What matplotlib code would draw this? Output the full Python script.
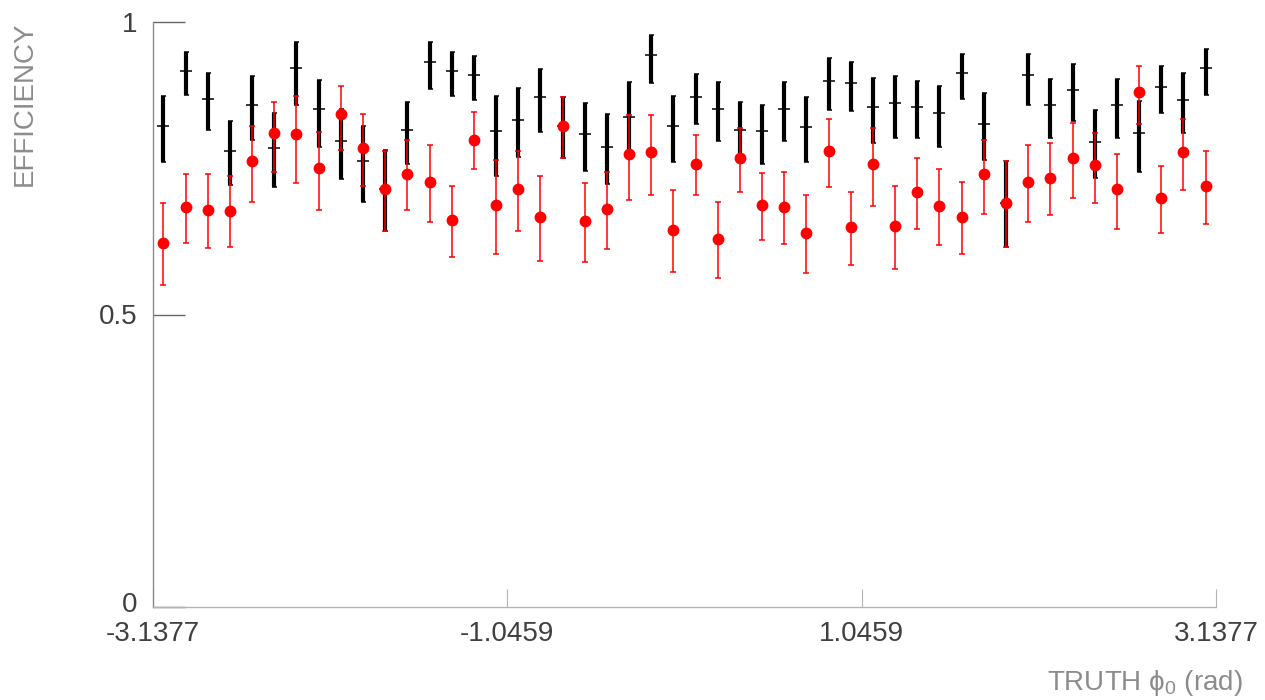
import numpy as np
import matplotlib
matplotlib.use("Agg")
import matplotlib.pyplot as plt
from matplotlib.transforms import ScaledTranslation

plt.rcParams['font.family'] = ['Liberation Sans', 'DejaVu Sans']
plt.rcParams['mathtext.fontset'] = 'custom'
plt.rcParams['mathtext.rm'] = 'Liberation Sans'
plt.rcParams['mathtext.it'] = 'Liberation Sans'
plt.rcParams['mathtext.default'] = 'regular'

# 48 bins in truth phi0
phi_edges = np.linspace(-np.pi, np.pi, 49)
phi = 0.5 * (phi_edges[:-1] + phi_edges[1:])

# black series (+ markers, thick bars)
black_eff = [0.822, 0.917, 0.868, 0.780, 0.858, 0.785, 0.922, 0.851, 0.796, 0.762, 0.714, 0.815,
             0.932, 0.916, 0.909, 0.814, 0.833, 0.871, 0.823, 0.808, 0.787, 0.838, 0.944, 0.822,
             0.871, 0.852, 0.816, 0.814, 0.852, 0.820, 0.900, 0.895, 0.854, 0.862, 0.854, 0.844,
             0.912, 0.826, 0.691, 0.909, 0.858, 0.884, 0.795, 0.858, 0.810, 0.889, 0.866, 0.921]
black_hi = [0.874, 0.948, 0.912, 0.831, 0.907, 0.844, 0.966, 0.901, 0.851, 0.823, 0.781, 0.864,
            0.965, 0.949, 0.942, 0.874, 0.887, 0.920, 0.872, 0.862, 0.842, 0.897, 0.977, 0.874,
            0.911, 0.897, 0.864, 0.858, 0.897, 0.871, 0.938, 0.932, 0.905, 0.908, 0.899, 0.891,
            0.946, 0.878, 0.763, 0.946, 0.903, 0.928, 0.850, 0.903, 0.865, 0.925, 0.913, 0.954]
black_lo = [0.761, 0.876, 0.815, 0.722, 0.798, 0.718, 0.858, 0.787, 0.731, 0.692, 0.642, 0.757,
            0.885, 0.873, 0.867, 0.737, 0.769, 0.812, 0.767, 0.746, 0.723, 0.767, 0.896, 0.760,
            0.826, 0.797, 0.770, 0.758, 0.797, 0.760, 0.850, 0.848, 0.793, 0.801, 0.801, 0.787,
            0.868, 0.764, 0.616, 0.858, 0.801, 0.830, 0.734, 0.801, 0.743, 0.844, 0.811, 0.876]

# red series (filled circles, thin bars)
red_eff = [0.623, 0.683, 0.679, 0.677, 0.762, 0.810, 0.808, 0.750, 0.842, 0.785, 0.714, 0.741,
           0.727, 0.661, 0.799, 0.688, 0.715, 0.667, 0.823, 0.660, 0.681, 0.774, 0.778, 0.644,
           0.757, 0.629, 0.767, 0.688, 0.684, 0.640, 0.779, 0.649, 0.757, 0.651, 0.709, 0.686,
           0.667, 0.740, 0.691, 0.727, 0.734, 0.767, 0.755, 0.714, 0.880, 0.699, 0.778, 0.720]
red_hi = [0.691, 0.741, 0.741, 0.736, 0.822, 0.864, 0.874, 0.812, 0.891, 0.843, 0.780, 0.798,
          0.790, 0.720, 0.847, 0.764, 0.780, 0.737, 0.872, 0.725, 0.744, 0.841, 0.841, 0.712,
          0.806, 0.693, 0.818, 0.742, 0.744, 0.705, 0.834, 0.709, 0.818, 0.720, 0.767, 0.748,
          0.727, 0.799, 0.763, 0.790, 0.793, 0.827, 0.811, 0.774, 0.924, 0.753, 0.835, 0.780]
red_lo = [0.550, 0.623, 0.613, 0.615, 0.693, 0.744, 0.725, 0.679, 0.781, 0.720, 0.642, 0.679,
          0.658, 0.598, 0.748, 0.603, 0.642, 0.591, 0.767, 0.589, 0.612, 0.695, 0.705, 0.573,
          0.704, 0.562, 0.709, 0.627, 0.620, 0.571, 0.718, 0.585, 0.686, 0.578, 0.646, 0.619,
          0.603, 0.672, 0.616, 0.658, 0.670, 0.700, 0.691, 0.647, 0.825, 0.639, 0.712, 0.655]

x_ticks = [-3.1377, -1.0459, 1.0459, 3.1377]
x_ticklabels = ['-3.1377', '-1.0459', '1.0459', '3.1377']
y_ticks = [0, 0.5, 1]
y_ticklabels = ['0', '0.5', '1']

black_eff = np.array(black_eff)
red_eff = np.array(red_eff)
black_err = [black_eff - np.array(black_lo), np.array(black_hi) - black_eff]
red_err = [red_eff - np.array(red_lo), np.array(red_hi) - red_eff]

fig = plt.figure(figsize=(12.65, 7.0), dpi=100)
ax = fig.add_axes([153 / 1265, 1 - 607 / 700, 1063 / 1265, 585 / 700])

ax.errorbar(phi, black_eff, yerr=black_err, fmt='+', color='black',
            markersize=8, markeredgewidth=1.1, elinewidth=3.0,
            capsize=1.8, capthick=2.2, zorder=2)
ax.errorbar(phi, red_eff, yerr=red_err, fmt='o', color='#ff0000',
            markersize=7.5, elinewidth=1.1, capsize=2.2, capthick=1.1, zorder=3)

ax.set_xlim(-3.1377, 3.1377)
ax.set_ylim(0, 1)
ax.set_xticks(x_ticks)
ax.set_xticklabels(x_ticklabels)
ax.set_yticks(y_ticks)
ax.set_yticklabels(y_ticklabels)

ax.spines['right'].set_visible(False)
ax.spines['top'].set_visible(False)
ax.spines['left'].set_color('#8c8c8c')
ax.spines['bottom'].set_color('#b4b4b4')
ax.spines['left'].set_linewidth(1.0)
ax.spines['bottom'].set_linewidth(1.0)

ax.tick_params(axis='y', direction='in', length=23, width=1.0, color='#666666',
               labelsize=20, labelcolor='#404040', pad=11)
ax.tick_params(axis='x', direction='in', length=13, width=0.8, color='#b4b4b4',
               labelsize=20, labelcolor='#404040', pad=10)

# the "0" sits right on top of "-3.1377" in the original; lift it a few pixels
lbl0 = ax.get_yticklabels()[0]
lbl0.set_transform(lbl0.get_transform() + ScaledTranslation(0, 5 / 100, fig.dpi_scale_trans))

fig.text(25 / 1265, 1 - 22 / 700, 'EFFICIENCY', rotation=90, ha='center', va='top',
         fontsize=20, color='#8c8c8c')
fig.text(1243 / 1265, 1 - 690 / 700, 'TRUTH $\\phi_0$ (rad)', ha='right', va='baseline',
         fontsize=20, color='#8c8c8c')

fig.savefig('out.png', dpi=100)
